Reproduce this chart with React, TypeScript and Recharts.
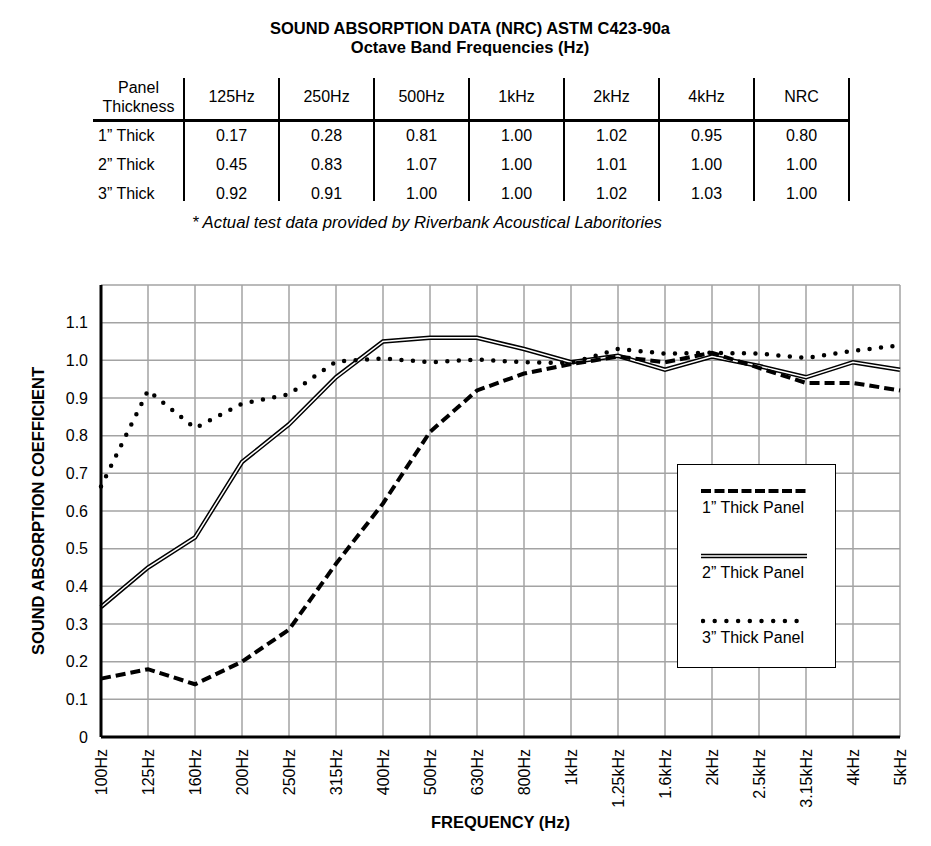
import { LineChart, Line, XAxis, YAxis, CartesianGrid, Legend } from 'recharts'

// 1/3 octave centre frequencies on the x axis
const freqs = ['100Hz', '125Hz', '160Hz', '200Hz', '250Hz', '315Hz', '400Hz', '500Hz', '630Hz', '800Hz', '1kHz', '1.25kHz', '1.6kHz', '2kHz', '2.5kHz', '3.15kHz', '4kHz', '5kHz']
const oneInch = [0.155, 0.18, 0.14, 0.2, 0.285, 0.46, 0.62, 0.81, 0.92, 0.965, 0.99, 1.01, 0.995, 1.02, 0.98, 0.94, 0.94, 0.92]
const twoInch = [0.345, 0.45, 0.53, 0.73, 0.83, 0.955, 1.05, 1.06, 1.06, 1.03, 0.995, 1.012, 0.975, 1.01, 0.985, 0.955, 0.995, 0.975]
const threeInch = [0.665, 0.92, 0.82, 0.885, 0.91, 0.997, 1.005, 0.995, 1.002, 0.995, 0.993, 1.03, 1.018, 1.02, 1.018, 1.006, 1.025, 1.04]
const yTicks = [0, 0.1, 0.2, 0.3, 0.4, 0.5, 0.6, 0.7, 0.8, 0.9, 1.0, 1.1]

// NRC table
const tableHeads = ['125Hz', '250Hz', '500Hz', '1kHz', '2kHz', '4kHz', 'NRC']
const rowLabels = ['1” Thick', '2” Thick', '3” Thick']
const row1 = ['0.17', '0.28', '0.81', '1.00', '1.02', '0.95', '0.80']
const row2 = ['0.45', '0.83', '1.07', '1.00', '1.01', '1.00', '1.00']
const row3 = ['0.92', '0.91', '1.00', '1.00', '1.02', '1.03', '1.00']
const tableRows = [row1, row2, row3]

const legendLabels = ['1” Thick Panel', '2” Thick Panel', '3” Thick Panel']

const chartData = freqs.map((freq, i) => ({
  freq,
  one: oneInch[i],
  two: twoInch[i],
  three: threeInch[i],
}))

const FONT = '"Liberation Sans", Arial, sans-serif'
const CHART_TOP = 250

const FreqTick = ({ x, y, payload }: any) => (
  <text x={x} y={y} transform={`rotate(-90, ${x}, ${y})`} textAnchor="end" dy="0.35em" fontSize={16} fill="#000">
    {payload.value}
  </text>
)

const Sample = ({ kind }: { kind: number }) => (
  <svg width={106} height={8} style={{ display: 'block' }}>
    {kind === 0 && <line x1={0} y1={4} x2={106} y2={4} stroke="#000" strokeWidth={4} strokeDasharray="10 3.5" />}
    {kind === 1 && (
      <>
        <line x1={0} y1={4} x2={106} y2={4} stroke="#000" strokeWidth={4.5} />
        <line x1={0} y1={4} x2={106} y2={4} stroke="#fff" strokeWidth={1.5} />
      </>
    )}
    {kind === 2 && <line x1={2} y1={4} x2={96} y2={4} stroke="#000" strokeWidth={4.5} strokeDasharray="0 11.7" strokeLinecap="round" />}
  </svg>
)

const LegendBox = () => (
  <div style={{ width: 159, height: 204, boxSizing: 'border-box', border: '1px solid #000', background: '#fff', position: 'relative' }}>
    {legendLabels.map((label, i) => (
      <div key={label} style={{ position: 'absolute', left: 23, top: 22 + i * 65 }}>
        <Sample kind={i} />
        <div style={{ fontSize: 16, lineHeight: '19px', marginTop: 3, paddingLeft: 1, whiteSpace: 'nowrap' }}>{label}</div>
      </div>
    ))}
  </div>
)

const App = () => {
  const colX = (i: number) => 184 + i * 95
  return (
    <div style={{ position: 'absolute', left: 0, top: 0, width: 931, height: 846, background: '#fff', fontFamily: FONT, color: '#000' }}>
      <div style={{ position: 'absolute', left: 0, top: 18.5, width: 940, textAlign: 'center', fontWeight: 'bold', fontSize: 16.5, lineHeight: '19.5px' }}>
        <div>SOUND ABSORPTION DATA (NRC) ASTM C423-90a</div>
        <div>Octave Band Frequencies (Hz)</div>
      </div>

      {/* table */}
      <div style={{ position: 'absolute', left: 93, top: 78, width: 91, height: 40, textAlign: 'center', fontSize: 16, lineHeight: '19px', paddingTop: 0 }}>
        <div>Panel</div>
        <div>Thickness</div>
      </div>
      {tableHeads.map((h, i) => (
        <div key={h} style={{ position: 'absolute', left: colX(i), top: 78, width: 95, height: 38, lineHeight: '38px', textAlign: 'center', fontSize: 16 }}>
          {h}
        </div>
      ))}
      <div style={{ position: 'absolute', left: 93, top: 118.5, width: 757, height: 3, background: '#000' }} />
      {[0, 1, 2, 3, 4, 5, 6, 7].map(i => (
        <div key={i} style={{ position: 'absolute', left: colX(i) - 1, top: 78, width: 2, height: 123, background: '#000' }} />
      ))}
      {tableRows.map((row, r) => (
        <div key={r}>
          <div style={{ position: 'absolute', left: 98, top: 120.5 + r * 29, height: 29, lineHeight: '29px', fontSize: 16 }}>{rowLabels[r]}</div>
          {row.map((v, i) => (
            <div key={i} style={{ position: 'absolute', left: colX(i), top: 120.5 + r * 29, width: 95, height: 29, lineHeight: '29px', textAlign: 'center', fontSize: 16 }}>
              {v}
            </div>
          ))}
        </div>
      ))}
      <div style={{ position: 'absolute', left: 0, top: 212.5, width: 854, textAlign: 'center', fontStyle: 'italic', fontSize: 16.75, lineHeight: '20px' }}>
        * Actual test data provided by Riverbank Acoustical Laboritories
      </div>

      <div style={{ position: 'absolute', left: 0, top: CHART_TOP }}>
        <LineChart width={931} height={596} data={chartData} margin={{ top: 35, right: 31, left: 41, bottom: 29 }}>
          <CartesianGrid stroke="#a3a3a3" strokeWidth={1.5} />
          <XAxis
            dataKey="freq"
            interval={0}
            tickLine={false}
            tickSize={0}
            tickMargin={12}
            height={80}
            tick={<FreqTick />}
            axisLine={{ stroke: '#000', strokeWidth: 3 }}
            label={{ value: 'FREQUENCY (Hz)', position: 'insideBottom', offset: -11, style: { fontWeight: 'bold', fontSize: 16.5, fill: '#000' } }}
          />
          <YAxis
            domain={[0, 1.2]}
            ticks={yTicks}
            width={60}
            tickLine={false}
            tickSize={0}
            tickMargin={13}
            tick={{ fontSize: 16, fill: '#000' }}
            tickFormatter={(v: number) => (v === 0 ? '0' : v.toFixed(1))}
            axisLine={{ stroke: '#000', strokeWidth: 3 }}
            label={{ value: 'SOUND ABSORPTION COEFFICIENT', angle: -90, position: 'insideLeft', offset: -3, style: { textAnchor: 'middle', fontWeight: 'bold', fontSize: 16.5, fill: '#000' } }}
          />
          <Line type="linear" dataKey="two" name="2” Thick Panel" stroke="#000" strokeWidth={4.5} dot={false} activeDot={false} isAnimationActive={false} />
          <Line type="linear" dataKey="two" legendType="none" stroke="#fff" strokeWidth={1.5} dot={false} activeDot={false} isAnimationActive={false} />
          <Line type="linear" dataKey="one" name="1” Thick Panel" stroke="#000" strokeWidth={4} strokeDasharray="10 5" dot={false} activeDot={false} isAnimationActive={false} />
          <Line type="linear" dataKey="three" name="3” Thick Panel" stroke="#000" strokeWidth={4.5} strokeDasharray="0 11.5" strokeLinecap="round" dot={false} activeDot={false} isAnimationActive={false} />
          <Legend
            layout="horizontal"
            verticalAlign="middle"
            align="center"
            content={<LegendBox />}
            wrapperStyle={{ position: 'absolute', left: 677, top: 464 - CHART_TOP, width: 159, height: 204, margin: 0 }}
          />
        </LineChart>
      </div>
    </div>
  )
}

export default App
